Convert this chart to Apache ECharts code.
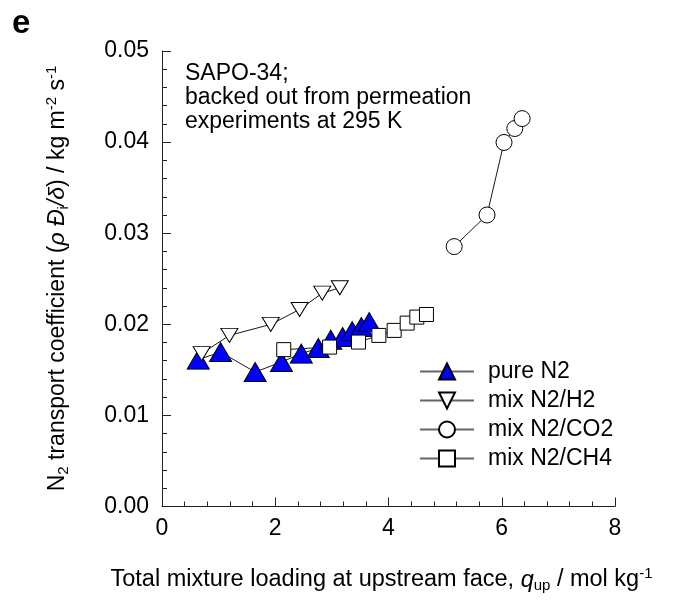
<!DOCTYPE html>
<html>
<head>
<meta charset="utf-8">
<script src="https://cdn.jsdelivr.net/npm/echarts@6/dist/echarts.min.js"></script>
<style>
  html, body { margin: 0; padding: 0; background: #fff; }
  #chart { width: 675px; height: 604px; }
</style>
</head>
<body>
<div id="chart"></div>
<script>
// N2 transport coefficient vs total loading, SAPO-34 membrane
const seriesNames = ['pure N2', 'mix N2/H2', 'mix N2/CO2', 'mix N2/CH4'];

const pureN2Loading = [0.64, 1.035, 1.645, 2.11, 2.46, 2.76, 2.98, 3.19, 3.36, 3.52, 3.66];
const pureN2Coef    = [0.01612, 0.01695, 0.01476, 0.01586, 0.01678, 0.01739, 0.01831, 0.0186, 0.01925, 0.0197, 0.02024];

const h2Loading = [0.70, 1.19, 1.92, 2.43, 2.83, 3.14];
const h2Coef    = [0.01678, 0.01878, 0.01999, 0.02163, 0.02342, 0.02401];

const co2Loading = [5.16, 5.74, 6.04, 6.23, 6.36];
const co2Coef    = [0.02853, 0.0320, 0.03996, 0.04149, 0.04258];

const ch4Loading = [2.15, 2.96, 3.47, 3.83, 4.10, 4.33, 4.50, 4.67];
const ch4Coef    = [0.01722, 0.0175, 0.01805, 0.01878, 0.01933, 0.02013, 0.02079, 0.02108];

const xTicks = [0, 2, 4, 6, 8];
const yTicks = [0, 0.01, 0.02, 0.03, 0.04, 0.05];

const FONT = '"Liberation Sans", Arial, sans-serif';
const FS = 23;
const zip = (xs, ys) => xs.map((x, i) => [x, ys[i]]);

const chart = echarts.init(document.getElementById('chart'), null, { renderer: 'canvas' });

const lineStyle = { color: '#1a1a1a', width: 1 };
const xRich = {
  n: { fontFamily: FONT, fontSize: 23.5, color: '#000' },
  i: { fontFamily: FONT, fontSize: 23.5, fontStyle: 'italic', color: '#000' },
  sub: { fontFamily: FONT, fontSize: 15, color: '#000', padding: [12, 0, 0, 0] },
  sup: { fontFamily: FONT, fontSize: 15, color: '#000', padding: [0, 0, 12, 0] }
};

chart.setOption({
  animation: false,
  backgroundColor: '#ffffff',
  grid: { left: 162, right: 60, top: 51, bottom: 97.5, containLabel: false },
  xAxis: {
    type: 'value',
    min: xTicks[0], max: xTicks[xTicks.length - 1], interval: 2,
    axisLine: { lineStyle: { color: '#222', width: 1 } },
    axisTick: { inside: true, length: 9, lineStyle: { color: '#222' } },
    minorTick: { show: true, splitNumber: 5, length: 5, lineStyle: { color: '#222' } },
    splitLine: { show: false },
    axisLabel: { color: '#000', fontFamily: FONT, fontSize: FS, margin: 11 },
    name: '{n|Total mixture loading at upstream face, }{i|q}{sub|up}{n| / mol kg}{sup|-1}',
    nameLocation: 'middle',
    nameGap: 60,
    nameTextStyle: { color: '#000', fontFamily: FONT, fontSize: 23.5, padding: [0, 14, 0, 0], rich: xRich }
  },
  yAxis: {
    type: 'value',
    min: yTicks[0], max: yTicks[yTicks.length - 1], interval: 0.01,
    axisLine: { show: true, lineStyle: { color: '#222', width: 1 } },
    axisTick: { show: true, inside: true, length: 9, lineStyle: { color: '#222' } },
    minorTick: { show: true, splitNumber: 5, length: 5, lineStyle: { color: '#222' } },
    splitLine: { show: false },
    axisLabel: {
      color: '#000', fontFamily: FONT, fontSize: FS, margin: 13,
      formatter: v => v.toFixed(2)
    }
  },
  legend: {
    orient: 'vertical',
    left: 419, top: 360, padding: 0,
    itemWidth: 54, itemHeight: 20, itemGap: 6,
    lineStyle: { color: '#666' },
    textStyle: { color: '#000', fontFamily: FONT, fontSize: FS, padding: [0, 0, 0, 9] },
    data: seriesNames
  },
  graphic: [
    {
      type: 'text', left: 12, top: 7,
      style: { text: 'e', fontFamily: FONT, fontSize: 33, fontWeight: 'bold', fill: '#000' }
    },
    {
      type: 'text', left: 185, top: 62,
      style: {
        text: 'SAPO-34;\nbacked out from permeation\nexperiments at 295 K',
        fontFamily: FONT, fontSize: FS, lineHeight: 24, fill: '#000'
      }
    },
    {
      type: 'text', x: 58, y: 278.5, rotation: Math.PI / 2,
      style: {
        text: '{n|N}{sub|2}{n| transport coefficient (}{i|ρ Đ}{sub|i}{i|/δ}{n|) / kg m}{sup|-2}{n| s}{sup|-1}',
        align: 'center', verticalAlign: 'middle',
        fontFamily: FONT, fontSize: FS, fill: '#000',
        rich: {
          n: { fontFamily: FONT, fontSize: FS, fill: '#000' },
          i: { fontFamily: FONT, fontSize: FS, fontStyle: 'italic', fill: '#000' },
          sub: { fontFamily: FONT, fontSize: 15, fill: '#000', padding: [12, 0, 0, 0] },
          sup: { fontFamily: FONT, fontSize: 15, fill: '#000', padding: [0, 0, 12, 0] }
        }
      }
    }
  ],
  series: [
    {
      name: seriesNames[0], type: 'line',
      data: zip(pureN2Loading, pureN2Coef),
      symbol: 'triangle', symbolSize: [22, 19],
      lineStyle: lineStyle,
      itemStyle: { color: '#0000ff', borderColor: '#000', borderWidth: 1 }
    },
    {
      name: seriesNames[1], type: 'line',
      data: zip(h2Loading, h2Coef),
      symbol: 'triangle', symbolSize: [17, 14], symbolRotate: 180,
      lineStyle: lineStyle,
      itemStyle: { color: '#ffffff', borderColor: '#000', borderWidth: 1 }
    },
    {
      name: seriesNames[2], type: 'line',
      data: zip(co2Loading, co2Coef),
      symbol: 'circle', symbolSize: 16,
      lineStyle: lineStyle,
      itemStyle: { color: '#ffffff', borderColor: '#000', borderWidth: 1 }
    },
    {
      name: seriesNames[3], type: 'line',
      data: zip(ch4Loading, ch4Coef),
      symbol: 'rect', symbolSize: 14,
      lineStyle: lineStyle,
      itemStyle: { color: '#ffffff', borderColor: '#000', borderWidth: 1 }
    }
  ]
});
</script>
</body>
</html>
